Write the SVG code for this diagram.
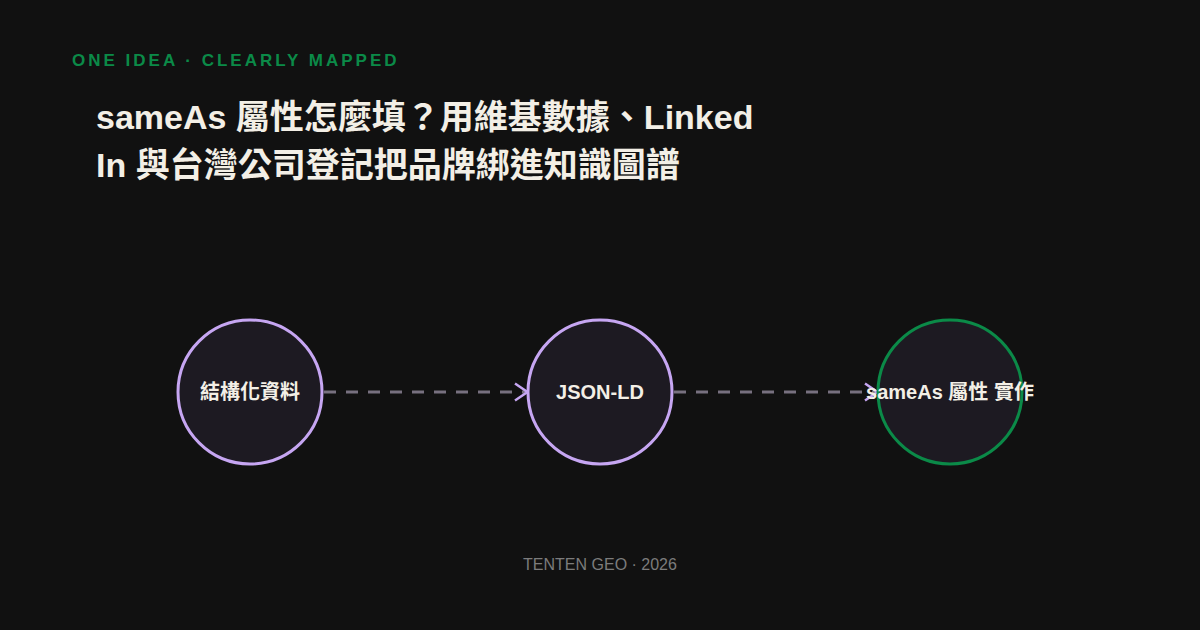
<svg xmlns="http://www.w3.org/2000/svg" width="1200" height="630" viewBox="0 0 1200 630">
<defs>
<style>
.bg{fill:#111111}
.kicker{font-family:"Liberation Sans","Noto Sans CJK TC",sans-serif;font-weight:700;font-size:17px;letter-spacing:3px;fill:#0b8a48}
.title{font-family:"Liberation Sans","Noto Sans CJK TC",sans-serif;font-weight:700;font-size:34px;fill:#f3efe6}
.node{fill:#1d1a22;stroke-width:3}
.purple{stroke:#c6a6f2}
.green{stroke:#0b8a48}
.label{font-family:"Liberation Sans","Noto Sans CJK TC",sans-serif;font-weight:700;font-size:20px;fill:#f3efe6;text-anchor:middle}
.edge{stroke:#77707f;stroke-width:3;stroke-dasharray:12 10;fill:none}
.foot{font-family:"Liberation Sans","Noto Sans CJK TC",sans-serif;font-size:16px;fill:#7c7c7c;text-anchor:middle}
</style>
<marker id="arrow" viewBox="0 0 16 20" refX="15" refY="10" markerWidth="16" markerHeight="20" markerUnits="userSpaceOnUse" orient="auto">
<path d="M2,1.5 L14.5,10 L2,18.5" fill="none" stroke="#c6a6f2" stroke-width="2.5"/>
</marker>
</defs>
<rect class="bg" x="0" y="0" width="1200" height="630"/>
<text class="kicker" x="72" y="66">ONE IDEA · CLEARLY MAPPED</text>
<text class="title" x="96" y="129">sameAs 屬性怎麼填？用維基數據、Linked</text>
<text class="title" x="96" y="177">In 與台灣公司登記把品牌綁進知識圖譜</text>
<g id="connectors">
<line class="edge" x1="324" y1="392" x2="528" y2="392" marker-end="url(#arrow)"/>
<line class="edge" x1="674" y1="392" x2="878" y2="392" marker-end="url(#arrow)"/>
</g>
<g id="node-structured">
<circle class="node purple" cx="250" cy="392" r="72"/>
<text class="label" x="250" y="399">結構化資料</text>
</g>
<g id="node-jsonld">
<circle class="node purple" cx="600" cy="392" r="72"/>
<text class="label" x="600" y="399">JSON-LD</text>
</g>
<g id="node-sameas">
<circle class="node green" cx="950" cy="392" r="72"/>
<text class="label" x="950" y="399">sameAs 屬性 實作</text>
</g>
<text class="foot" x="600" y="570">TENTEN GEO · 2026</text>
</svg>
